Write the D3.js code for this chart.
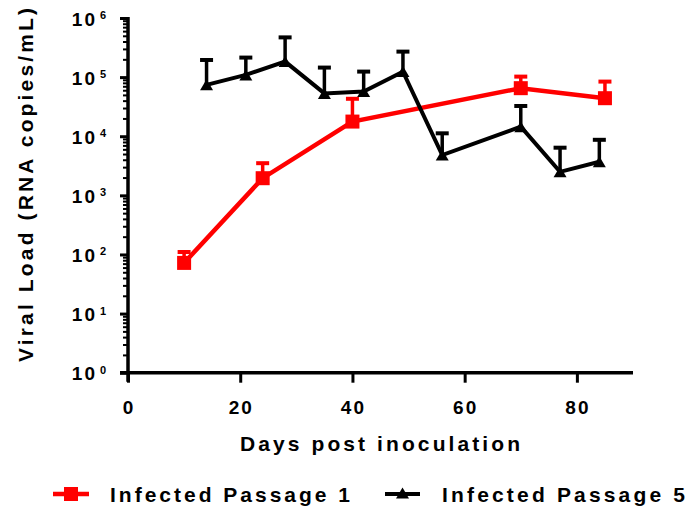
<!DOCTYPE html>
<html>
<head>
<meta charset="utf-8">
<script src="https://cdn.jsdelivr.net/npm/d3@7"></script>
<style>
  html, body { margin: 0; padding: 0; background: #fff; }
  svg { display: block; }
  text { font-family: "Liberation Sans", Arial, sans-serif; font-weight: bold; fill: #000; }
</style>
</head>
<body>
<svg id="chart" width="688" height="510"></svg>
<script>
// ---- data ----
const series1Name = "Infected Passage 1";
const series1Days = [10, 24, 40, 70, 85];
const series1Mean = [72, 1950, 17700, 65000, 44000];
const series1Upper = [110, 3500, 43000, 102000, 84000];

const series5Name = "Infected Passage 5";
const series5Days = [14, 21, 28, 35, 42, 49, 56, 70, 77, 84];
const series5Mean = [74000, 109000, 183000, 53000, 57000, 124000, 4800, 14500, 2500, 3700];
const series5Upper = [195000, 214000, 470000, 145000, 124000, 270000, 11200, 32500, 6400, 8700];

const xTicks = [0, 20, 40, 60, 80];
const yExponents = [0, 1, 2, 3, 4, 5, 6];
const xTitle = "Days post inoculation";
const yTitle = "Viral Load (RNA copies/mL)";

// ---- layout ----
const svg = d3.select("#chart");
const x = d3.scaleLinear().domain([0, 90]).range([128, 633]);
const y = d3.scaleLog().domain([1, 1e6]).range([372.7, 18]);

// minor ticks (2..9 x 10^k)
const minors = [];
yExponents.slice(0, -1).forEach(e => { for (let m = 2; m <= 9; m++) minors.push(m * Math.pow(10, e)); });
const majors = yExponents.map(e => Math.pow(10, e));

const gy = svg.append("g").attr("transform", `translate(${x(0)},0)`);
gy.call(d3.axisLeft(y).tickValues(minors).tickSize(5).tickFormat(""));
gy.selectAll(".tick line").attr("stroke", "#000").attr("stroke-width", 2);
const gy2 = svg.append("g").attr("transform", `translate(${x(0)},0)`);
gy2.call(d3.axisLeft(y).tickValues(majors).tickSize(8).tickSizeOuter(0).tickFormat(""));
gy2.selectAll(".tick line").attr("stroke", "#000").attr("stroke-width", 3);
gy.select(".domain").remove();
gy2.select(".domain").remove();

// y-axis line
svg.append("line").attr("x1", x(0)).attr("x2", x(0)).attr("y1", y(1e6) - 1).attr("y2", y(1) + 9)
  .attr("stroke", "#000").attr("stroke-width", 3.5);

// y tick labels 10^n
majors.forEach((v, i) => {
  const ty = y(v);
  svg.append("text").attr("x", 97).attr("y", ty + 7.5).attr("text-anchor", "end")
    .attr("font-size", 19).attr("letter-spacing", 2).text("10");
  svg.append("text").attr("x", 100).attr("y", ty + 1).attr("text-anchor", "start")
    .attr("font-size", 11).text(yExponents[i]);
});

// x axis
const gx = svg.append("g").attr("transform", `translate(0,${y(1)})`);
gx.call(d3.axisBottom(x).tickValues(xTicks).tickSize(10).tickSizeOuter(0).tickFormat(""));
gx.select(".domain").remove();
gx.selectAll(".tick line").attr("stroke", "#000").attr("stroke-width", 3);
svg.append("line").attr("x1", x(0) - 8).attr("x2", x(90)).attr("y1", y(1)).attr("y2", y(1))
  .attr("stroke", "#000").attr("stroke-width", 3.5);
xTicks.forEach(t => {
  svg.append("text").attr("x", x(t) + 1).attr("y", 413.5).attr("text-anchor", "middle")
    .attr("font-size", 19).attr("letter-spacing", 2).text(t);
});

// titles
svg.append("text").attr("x", 380).attr("y", 451).attr("text-anchor", "middle")
  .attr("font-size", 21).attr("textLength", 280).attr("lengthAdjust", "spacing").text(xTitle);
svg.append("text").attr("transform", "translate(33,185) rotate(-90)").attr("text-anchor", "middle")
  .attr("font-size", 21).attr("textLength", 354).attr("lengthAdjust", "spacing").text(yTitle);

// ---- series drawing ----
const triPath = (cx, cy, w, h) => `M${cx - w / 2},${cy + h / 2}L${cx + w / 2},${cy + h / 2}L${cx},${cy - h / 2}Z`;

function drawSeries(days, mean, upper, color, lw, marker) {
  const pts = days.map((d, i) => ({ d, m: mean[i], u: upper[i] }));
  const g = svg.append("g");
  // error bars (upper only)
  pts.forEach(p => {
    g.append("line").attr("x1", x(p.d)).attr("x2", x(p.d)).attr("y1", y(p.m)).attr("y2", y(p.u))
      .attr("stroke", color).attr("stroke-width", 3.5);
    g.append("line").attr("x1", x(p.d) - 6.5).attr("x2", x(p.d) + 6.5).attr("y1", y(p.u)).attr("y2", y(p.u))
      .attr("stroke", color).attr("stroke-width", 4);
  });
  const line = d3.line().x(p => x(p.d)).y(p => y(p.m));
  g.append("path").datum(pts).attr("d", line).attr("fill", "none").attr("stroke", color)
    .attr("stroke-width", lw).attr("stroke-linejoin", "miter");
  pts.forEach(p => {
    if (marker === "square") {
      g.append("rect").attr("x", x(p.d) - 7).attr("y", y(p.m) - 7).attr("width", 14).attr("height", 14).attr("fill", color);
    } else {
      g.append("path").attr("d", triPath(x(p.d), y(p.m), 13, 11)).attr("fill", color);
    }
  });
}

drawSeries(series1Days, series1Mean, series1Upper, "#ff0000", 4.5, "square");
drawSeries(series5Days, series5Mean, series5Upper, "#000000", 4, "triangle");

// ---- legend ----
const leg = svg.append("g");
leg.append("line").attr("x1", 53).attr("x2", 89).attr("y1", 494).attr("y2", 494).attr("stroke", "#ff0000").attr("stroke-width", 4.5);
leg.append("rect").attr("x", 71 - 7).attr("y", 494 - 7).attr("width", 14).attr("height", 14).attr("fill", "#ff0000");
leg.append("text").attr("x", 110).attr("y", 502).attr("font-size", 21)
  .attr("textLength", 240).attr("lengthAdjust", "spacing").text(series1Name);
leg.append("line").attr("x1", 385).attr("x2", 420).attr("y1", 494).attr("y2", 494).attr("stroke", "#000").attr("stroke-width", 4);
leg.append("path").attr("d", triPath(402.5, 493, 13, 11)).attr("fill", "#000");
leg.append("text").attr("x", 442).attr("y", 502).attr("font-size", 21)
  .attr("textLength", 243).attr("lengthAdjust", "spacing").text(series5Name);
</script>
</body>
</html>
